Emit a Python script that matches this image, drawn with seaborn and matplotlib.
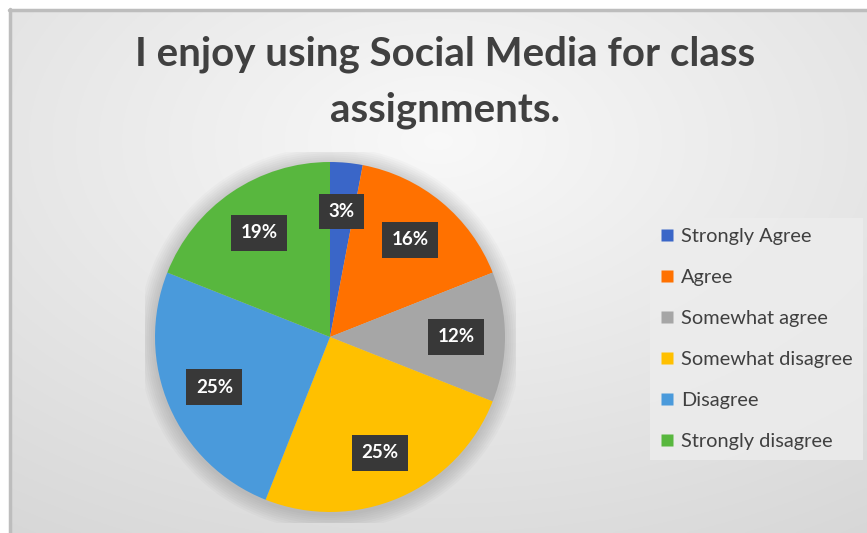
import numpy as np
import matplotlib.pyplot as plt
import seaborn as sns
from matplotlib.lines import Line2D

# --- data ---
categories = ["Strongly Agree", "Agree", "Somewhat agree",
              "Somewhat disagree", "Disagree", "Strongly disagree"]
shares = [3, 16, 12, 25, 25, 19]
colors = ["#3A66C8", "#FF7100", "#A6A6A6", "#FFC000", "#4A9ADB", "#58B73E"]
title = "I enjoy using Social Media for class\nassignments."

sns.set_theme(style="white")
plt.rcParams["font.family"] = ["Lato", "DejaVu Sans"]

W, H = 867, 533
fig = plt.figure(figsize=(W / 100, H / 100), dpi=100)
fig.patch.set_facecolor("white")

# background panel with a soft radial gradient
bg = fig.add_axes([10 / W, 0, 1 - 10 / W, 1 - 10 / H])
yy, xx = np.mgrid[0:1:300j, 0:1:500j]
r = np.sqrt(((xx - 0.5) / 0.9) ** 2 + ((yy - 0.25) / 0.9) ** 2)
shade = np.clip(0.975 - 0.13 * r, 0.84, 0.98)
bg.imshow(np.dstack([shade] * 3), aspect="auto", extent=[0, 1, 1, 0])
bg.set_xlim(0, 1)
bg.set_ylim(1, 0)
bg.axis("off")
fig.add_artist(Line2D([10 / W, 10 / W], [0, 1 - 9 / H], color="#BDBDBD", lw=2.5))
fig.add_artist(Line2D([9 / W, 1], [1 - 10 / H, 1 - 10 / H], color="#BDBDBD", lw=2.5))

fig.text(445 / W, 1 - 82 / H, title, ha="center", va="center",
         fontsize=29, fontweight="bold", color="#404040", linespacing=1.62)

# pie (radius 175 px, axes padded by 6%)
cx, cy, rad = 330, 337, 175 * 1.06
ax = fig.add_axes([(cx - rad) / W, (H - cy - rad) / H, 2 * rad / W, 2 * rad / H])
for k in range(8):
    ax.add_patch(plt.Circle((0.0, -0.01), 1.0 + 0.012 * (k + 1), color="black",
                            alpha=0.018, lw=0, zorder=0))
wedges, texts, autotexts = ax.pie(
    shares, colors=colors, startangle=90, counterclock=False,
    autopct="%d%%", pctdistance=0.72,
    wedgeprops=dict(linewidth=0), radius=1.0)
for t in autotexts:
    t.set_color("white")
    t.set_fontweight("bold")
    t.set_fontsize(13.5)
    t.set_bbox(dict(boxstyle="square,pad=0.5", fc="#383838", ec="none"))
ax.set_xlim(-1.06, 1.06)
ax.set_ylim(-1.06, 1.06)
ax.set_aspect("equal")
ax.axis("off")

# legend
handles = [plt.Line2D([], [], marker="s", ls="", markersize=8.5,
                      markerfacecolor=c, markeredgecolor="none") for c in colors]
leg = fig.legend(handles, categories, loc="upper left",
                 bbox_to_anchor=(650 / W, 1 - 218 / H),
                 frameon=True, fontsize=14.4, labelspacing=1.2,
                 handlelength=0.65, handletextpad=0.4, borderpad=0.5,
                 borderaxespad=0)
leg.get_frame().set_facecolor("#EDEDED")
leg.get_frame().set_edgecolor("none")
leg.get_frame().set_boxstyle("square", pad=0)
for t in leg.get_texts():
    t.set_color("#404040")

fig.savefig("out.png", dpi=100)
